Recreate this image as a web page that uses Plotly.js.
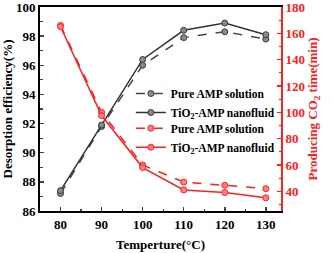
<!DOCTYPE html>
<html><head><meta charset="utf-8">
<script src="https://cdn.plot.ly/plotly-3.0.1.min.js"></script>
<style>html,body{margin:0;padding:0;background:#fff}#c{width:332px;height:253px}</style>
</head><body><div id="c"></div>
<script>
const temps = [80, 90, 100, 110, 120, 130];
const effPure = [87.2, 91.8, 96.0, 97.9, 98.3, 97.8];
const effTiO2 = [87.4, 91.9, 96.4, 98.4, 98.9, 98.1];
const timePure = [166, 100, 60, 47, 44.5, 42];
const timeTiO2 = [165, 97.5, 58, 41, 39, 35];
const labelPure = 'Pure AMP solution';
const labelTiO2 = 'TiO<sub>2</sub>-AMP nanofluid';

const F = 'Liberation Serif, Times New Roman, serif';
const gray = {color:'#8a8a8a', size:6, line:{color:'#3a3a3a', width:1}};
const red = {color:'#ff8080', size:6, line:{color:'#ff2020', width:1}};

const traces = [
  {x:temps, y:effPure, name:labelPure, mode:'lines+markers', legend:'legend',
   line:{color:'#444', width:1.5, dash:'dash'}, marker:gray},
  {x:temps, y:effTiO2, name:labelTiO2, mode:'lines+markers', legend:'legend',
   line:{color:'#333', width:1.5}, marker:gray},
  {x:temps, y:timePure, name:labelPure, mode:'lines+markers', yaxis:'y2', legend:'legend2',
   line:{color:'#ff2020', width:1.5, dash:'dash'}, marker:red},
  {x:temps, y:timeTiO2, name:labelTiO2, mode:'lines+markers', yaxis:'y2', legend:'legend2',
   line:{color:'#ff2020', width:1.5}, marker:red}
];

const legFont = {family:F, size:11.5, color:'#000', weight:'bold'};
const layout = {
  width:332, height:253,
  margin:{l:40, r:51, t:7, b:42},
  paper_bgcolor:'#fff', plot_bgcolor:'#fff',
  font:{family:F, size:13, color:'#000', weight:'bold'},
  showlegend:true,
  legend:{x:0.377, y:0.647, xanchor:'left', yanchor:'top', bgcolor:'rgba(0,0,0,0)',
    font:legFont, itemwidth:30, tracegroupgap:0},
  legend2:{x:0.377, y:0.477, xanchor:'left', yanchor:'top', bgcolor:'rgba(0,0,0,0)',
    font:legFont, itemwidth:30, tracegroupgap:0},
  xaxis:{range:[75, 133.7], tickvals:temps, ticks:'inside', ticklen:4, tickwidth:1.5,
    minor:{dtick:5, ticks:'inside', ticklen:2.5, tickwidth:1.2, tick0:75},
    showline:true, linecolor:'#000', linewidth:2, mirror:true, showgrid:false, zeroline:false,
    tickfont:{family:F, size:13, weight:'bold'},
    title:{text:'Temperture(°C)', font:{family:F, size:13, weight:'bold'}, standoff:9}},
  yaxis:{range:[86, 100], tickvals:[86,88,90,92,94,96,98,100], ticks:'inside', ticklen:4, tickwidth:1.5,
    minor:{dtick:1, ticks:'inside', ticklen:2.5, tickwidth:1.2},
    showline:true, linecolor:'#000', linewidth:2, showgrid:false, zeroline:false,
    tickfont:{family:F, size:13, weight:'bold'}, ticklabeloverflow:'allow',
    title:{text:'Desorption efficiency(%)', font:{family:F, size:13, weight:'bold'}, standoff:4}},
  yaxis2:{range:[25, 180], tickvals:[40,60,80,100,120,140,160,180], overlaying:'y', side:'right', ticks:'inside', ticklen:4, tickwidth:1.5,
    minor:{dtick:10, ticks:'inside', ticklen:2.5, tickwidth:1.2},
    tickcolor:'#ff2020', showline:true, linecolor:'#ff2020', linewidth:2, showgrid:false, zeroline:false,
    tickfont:{family:F, size:13, weight:'bold', color:'#ff2020'}, ticklabeloverflow:'allow',
    title:{text:'Producing CO<sub>2</sub> time(min)', font:{family:F, size:13, weight:'bold', color:'#ff2020'}, standoff:4}}
};
Plotly.newPlot('c', traces, layout, {staticPlot:true, displayModeBar:false});
</script></body></html>
